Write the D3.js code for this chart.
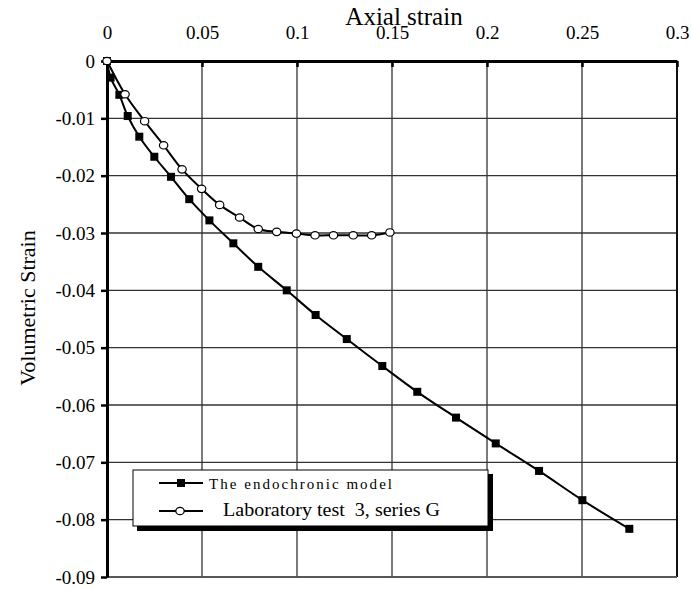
<!DOCTYPE html>
<html>
<head>
<meta charset="utf-8">
<script src="https://cdn.jsdelivr.net/npm/d3@7/dist/d3.min.js"></script>
<style>
  html, body { margin: 0; padding: 0; background: #fff; }
  svg { display: block; }
  svg text { font-family: "Liberation Serif", "Times New Roman", serif; fill: #000; }
</style>
</head>
<body>
<svg id="chart" width="692" height="590"></svg>
<script>
// Endochronic model prediction (axial strain vs volumetric strain)
const modelAxial = [0, 0.0019, 0.0065, 0.0109, 0.0170, 0.0249, 0.0337, 0.0433, 0.0539, 0.0665, 0.0796,
                    0.0946, 0.1098, 0.1262, 0.1449, 0.1633, 0.1837, 0.2046, 0.2274, 0.2502, 0.2749];
const modelVol   = [0, -0.0029, -0.0059, -0.0096, -0.0132, -0.0167, -0.0202, -0.0241, -0.0278, -0.0318, -0.0359,
                    -0.0400, -0.0443, -0.0485, -0.0532, -0.0577, -0.0622, -0.0667, -0.0715, -0.0766, -0.0816];

// Laboratory test 3, series G
const labAxial = [0, 0.0095, 0.0198, 0.0298, 0.0395, 0.0498, 0.0593, 0.0698, 0.0796, 0.0893,
                  0.0997, 0.1095, 0.1192, 0.1296, 0.1393, 0.1489];
const labVol   = [0, -0.0058, -0.0105, -0.0147, -0.0189, -0.0223, -0.0251, -0.0273, -0.0293, -0.0298,
                  -0.0301, -0.0304, -0.0304, -0.0304, -0.0304, -0.0299];

const xTicks = [0, 0.05, 0.1, 0.15, 0.2, 0.25, 0.3];
const yTicks = [0, -0.01, -0.02, -0.03, -0.04, -0.05, -0.06, -0.07, -0.08, -0.09];

const seriesNames = ["The endochronic model", "Laboratory test  3, series G"];

const serif = "Liberation Serif, Times New Roman, serif";
const svg = d3.select("#chart");
const plotL = 107, plotR = 677, plotT = 61, plotB = 577;

const x = d3.scaleLinear().domain([0, 0.3]).range([plotL, plotR]);
const y = d3.scaleLinear().domain([0, -0.09]).range([plotT, plotB]);

// gridlines
const grid = svg.append("g");
grid.selectAll("line.vx").data(xTicks.slice(1)).enter().append("line")
  .attr("x1", d => x(d)).attr("x2", d => x(d))
  .attr("y1", plotT).attr("y2", plotB)
  .attr("stroke", "#333").attr("stroke-width", 1.3);
grid.selectAll("line.hy").data(yTicks.slice(1)).enter().append("line")
  .attr("x1", plotL).attr("x2", plotR)
  .attr("y1", d => y(d)).attr("y2", d => y(d))
  .attr("stroke", "#333").attr("stroke-width", 1.3);

// right and bottom frame
svg.append("line").attr("x1", plotR).attr("x2", plotR).attr("y1", plotT).attr("y2", plotB)
  .attr("stroke", "#111").attr("stroke-width", 2);
svg.append("line").attr("x1", plotL).attr("x2", plotR).attr("y1", plotB).attr("y2", plotB)
  .attr("stroke", "#555").attr("stroke-width", 1.5);

// top x axis
const xAxis = svg.append("g").attr("transform", `translate(0,${plotT})`)
  .call(d3.axisTop(x).tickValues(xTicks).tickFormat(d => String(d))
    .tickSizeInner(-6).tickSizeOuter(0).tickPadding(22))
  .attr("font-family", serif).attr("font-size", 19);
xAxis.select(".domain").attr("stroke", "#000").attr("stroke-width", 3);
xAxis.selectAll(".tick line").attr("stroke", "#000").attr("stroke-width", 2.5);

// left y axis
const yAxis = svg.append("g").attr("transform", `translate(${plotL},0)`)
  .call(d3.axisLeft(y).tickValues(yTicks).tickFormat(d => String(d))
    .tickSizeInner(6).tickSizeOuter(0).tickPadding(6))
  .attr("font-family", serif).attr("font-size", 19);
yAxis.select(".domain").attr("stroke", "#000").attr("stroke-width", 3);
yAxis.selectAll(".tick line").attr("stroke", "#000").attr("stroke-width", 2.5);

// axis titles
svg.append("text").attr("x", 404).attr("y", 25).attr("text-anchor", "middle")
  .attr("font-size", 25).text("Axial strain");
svg.append("text").attr("transform", "translate(35,308) rotate(-90)").attr("text-anchor", "middle")
  .attr("font-size", 22).text("Volumetric Strain");

const line = d3.line().x(d => x(d[0])).y(d => y(d[1])).curve(d3.curveCatmullRom.alpha(0.5));

const modelPts = modelAxial.map((a, i) => [a, modelVol[i]]);
const labPts = labAxial.map((a, i) => [a, labVol[i]]);

// model series
svg.append("path").datum(modelPts).attr("d", line)
  .attr("fill", "none").attr("stroke", "#000").attr("stroke-width", 2);
svg.selectAll("rect.m").data(modelPts).enter().append("rect")
  .attr("x", d => x(d[0]) - 4).attr("y", d => y(d[1]) - 4)
  .attr("width", 8).attr("height", 8).attr("fill", "#000");

// lab series
svg.append("path").datum(labPts).attr("d", line)
  .attr("fill", "none").attr("stroke", "#000").attr("stroke-width", 2);
svg.selectAll("ellipse.l").data(labPts).enter().append("ellipse")
  .attr("cx", d => x(d[0])).attr("cy", d => y(d[1]))
  .attr("rx", 4.2).attr("ry", 3.7)
  .attr("fill", "#fff").attr("stroke", "#000").attr("stroke-width", 1.2);

// legend
const lg = svg.append("g");
lg.append("rect").attr("x", 137).attr("y", 474).attr("width", 356).attr("height", 57).attr("fill", "#000");
lg.append("rect").attr("x", 133).attr("y", 470).attr("width", 355).attr("height", 56)
  .attr("fill", "#fff").attr("stroke", "#000").attr("stroke-width", 1);

lg.append("line").attr("x1", 159).attr("x2", 203).attr("y1", 483).attr("y2", 483)
  .attr("stroke", "#000").attr("stroke-width", 2);
lg.append("rect").attr("x", 177).attr("y", 479).attr("width", 8).attr("height", 8).attr("fill", "#000");
lg.append("text").attr("x", 209).attr("y", 489).attr("font-size", 15)
  .attr("textLength", 183).attr("lengthAdjust", "spacing").text(seriesNames[0]);

lg.append("line").attr("x1", 159).attr("x2", 203).attr("y1", 511).attr("y2", 511)
  .attr("stroke", "#000").attr("stroke-width", 2);
lg.append("ellipse").attr("cx", 180).attr("cy", 511).attr("rx", 4.2).attr("ry", 3.7)
  .attr("fill", "#fff").attr("stroke", "#000").attr("stroke-width", 1.2);
lg.append("text").attr("x", 223).attr("y", 516).attr("font-size", 18)
  .style("white-space", "pre")
  .attr("textLength", 217).attr("lengthAdjust", "spacingAndGlyphs").text(seriesNames[1]);
</script>
</body>
</html>
